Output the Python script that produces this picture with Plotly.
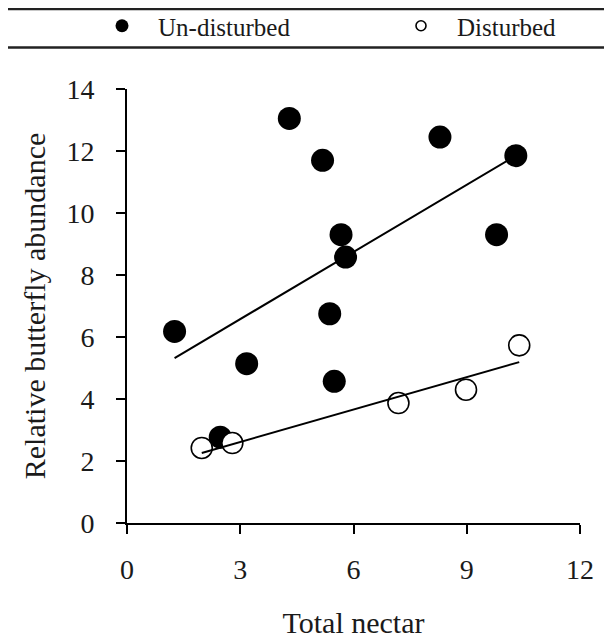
import plotly.graph_objects as go

# Data
undisturbed_x = [1.26, 3.17, 2.47, 4.30, 5.18, 8.29, 10.30, 5.67, 5.79, 9.79, 5.37, 5.49]
undisturbed_y = [6.18, 5.14, 2.77, 13.05, 11.70, 12.45, 11.85, 9.30, 8.58, 9.30, 6.75, 4.57]

disturbed_x = [1.98, 2.79, 7.19, 8.98, 10.39]
disturbed_y = [2.42, 2.58, 3.87, 4.30, 5.73]

# Trend-line endpoints
trend_undisturbed_x = [1.26, 10.30]
trend_undisturbed_y = [5.32, 11.85]
trend_disturbed_x = [1.98, 10.39]
trend_disturbed_y = [2.26, 5.19]

x_ticks = [0, 3, 6, 9, 12]
y_ticks = [0, 2, 4, 6, 8, 10, 12, 14]

FONT = "Liberation Serif, Times New Roman, serif"
INK = "#1a1a1a"

# page has an 8px body margin; size the figure to fit inside the window
OFF = 8
W, H = 612 - OFF, 639 - OFF
L, T = 127 - OFF, 89 - OFF
PW, PH = 453, 434
R, B = W - L - PW, H - T - PH

fig = go.Figure()

fig.add_trace(go.Scatter(
    x=undisturbed_x, y=undisturbed_y, mode="markers", showlegend=False,
    marker=dict(symbol="circle", size=23, color="black", line=dict(width=0)),
))
fig.add_trace(go.Scatter(
    x=disturbed_x, y=disturbed_y, mode="markers", showlegend=False,
    marker=dict(symbol="circle", size=21, color="white", line=dict(width=1.6, color="black")),
))
fig.add_trace(go.Scatter(
    x=trend_undisturbed_x, y=trend_undisturbed_y, mode="lines", showlegend=False,
    line=dict(color="black", width=2),
))
fig.add_trace(go.Scatter(
    x=trend_disturbed_x, y=trend_disturbed_y, mode="lines", showlegend=False,
    line=dict(color="black", width=2),
))

# Legend entries
fig.add_trace(go.Scatter(
    x=[None], y=[None], mode="markers", name="Un-disturbed", legendwidth=222,
    marker=dict(symbol="circle", size=13, color="black", line=dict(width=0)),
))
fig.add_trace(go.Scatter(
    x=[None], y=[None], mode="markers", name="Disturbed",
    marker=dict(symbol="circle", size=10, color="white", line=dict(width=1.6, color="black")),
))

def px_to_paper_x(px):
    return (px - OFF - L) / PW
def px_to_paper_y(py):
    return 1 + (T - (py - OFF)) / PH

for yy, wd in [(9, 2.5), (47.5, 2.5)]:
    fig.add_shape(type="line", xref="paper", yref="paper",
                  x0=px_to_paper_x(OFF), x1=px_to_paper_x(612),
                  y0=px_to_paper_y(yy), y1=px_to_paper_y(yy),
                  line=dict(color="#222222", width=wd))

axis_common = dict(
    showline=True, linecolor="black", linewidth=2,
    ticks="outside", ticklen=9, tickwidth=2, tickcolor="black",
    showgrid=False, zeroline=False, mirror=False,
    tickfont=dict(family=FONT, size=28, color=INK),
)

fig.update_layout(
    width=W, height=H,
    margin=dict(l=L, r=R, t=T, b=B, autoexpand=False),
    paper_bgcolor="white", plot_bgcolor="white",
    font=dict(family=FONT, color=INK),
    xaxis=dict(range=[0, 12], tickvals=x_ticks, ticktext=[str(v) for v in x_ticks],
               ticklabelstandoff=11,
               title=dict(text="Total nectar", font=dict(family=FONT, size=30, color=INK), standoff=30),
               automargin=False, **axis_common),
    yaxis=dict(range=[0, 14], tickvals=y_ticks, ticktext=[str(v) for v in y_ticks],
               ticklabelstandoff=16,
               title=dict(text="Relative butterfly abundance", font=dict(family=FONT, size=30, color=INK), standoff=12),
               automargin=False, **axis_common),
    legend=dict(
        orientation="h", xref="paper", yref="paper",
        x=px_to_paper_x(86), xanchor="left", y=px_to_paper_y(26), yanchor="middle",
        font=dict(family=FONT, size=25, color=INK),
        itemsizing="trace", itemwidth=62,
        bgcolor="rgba(0,0,0,0)", borderwidth=0,
    ),
)

fig.write_html("out.html")
